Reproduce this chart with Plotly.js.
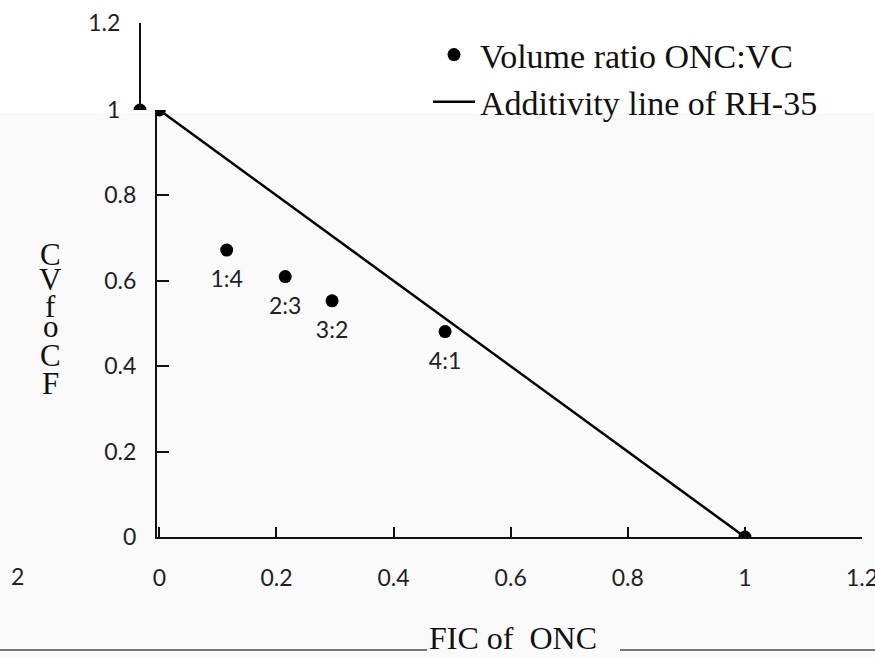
<!DOCTYPE html>
<html>
<head>
<meta charset="utf-8">
<script src="https://cdn.plot.ly/plotly-3.0.1.min.js"></script>
<style>html,body{margin:0;padding:0;background:#fafafa;}#chart{width:875px;height:658px;}</style>
</head>
<body>
<div id="chart"></div>
<script>
// ---- data ----
const ratioLabels = ["", "1:4", "2:3", "3:2", "4:1", ""];
const ficONC = [0, 0.115, 0.215, 0.295, 0.488, 1];
const ficVC = [1, 0.672, 0.61, 0.553, 0.481, 0];
const additivityX = [0, 1];
const additivityY = [1, 0];
const xTickVals = [0, 0.2, 0.4, 0.6, 0.8, 1, 1.2];
const xTickText = ["0", "0.2", "0.4", "0.6", "0.8", "1", "1.2"];
const yTickValsLower = [0, 0.2, 0.4, 0.6, 0.8];
const yTickTextLower = ["0", "0.2", "0.4", "0.6", "0.8"];
const yTickValsUpper = [1, 1.2];
const yTickTextUpper = ["1", "1.2"];
const yTitleLetters = ["C", "V", "f", "o", "C", "F"];
const seriesNames = ["Volume ratio ONC:VC", "Additivity line of RH-35"];

// ---- layout helpers (page geometry) ----
const W = 875, H = 658;
const mL = 100, mR = 13, mT = 23, mB = 121;
const pw = W - mL - mR, ph = H - mT - mB;
const px2x = p => (p - mL) / pw;
const py2y = p => (H - mB - p) / ph;

const tickFont = {family: "Lato, 'Open Sans', sans-serif", size: 23, color: "#222"};
const serif = "'Liberation Serif', 'Times New Roman', serif";

const traces = [
  {x: ficONC, y: ficVC, xaxis: "x", yaxis: "y", mode: "markers", name: seriesNames[0],
   marker: {color: "#000", size: 13}, cliponaxis: true},
  {x: additivityX, y: additivityY, xaxis: "x", yaxis: "y", mode: "lines", name: seriesNames[1],
   line: {color: "#000", width: 2.5}},
  {x: ficONC, y: ficVC, xaxis: "x", yaxis: "y", mode: "markers+text", text: ratioLabels,
   marker: {size: 30, opacity: 0, color: "#000"},
   textposition: "bottom center", textfont: tickFont, showlegend: false, cliponaxis: false},
  // upper (shifted) strip of the scanned figure
  {x: ficONC, y: ficVC, xaxis: "x2", yaxis: "y2", mode: "markers", showlegend: false,
   marker: {color: "#000", size: 13}, cliponaxis: true},
  {x: additivityX, y: additivityY, xaxis: "x2", yaxis: "y2", mode: "lines", showlegend: false,
   line: {color: "#000", width: 2.5}}
];

const lowerTop = (H - mB - 110) / ph;
const x0px = 157, unit = 585.5;
const layout = {
  width: W, height: H,
  margin: {l: mL, r: mR, t: mT, b: mB, pad: 0},
  paper_bgcolor: "#fafafa", plot_bgcolor: "rgba(0,0,0,0)",
  showlegend: true,
  legend: {x: px2x(428), y: py2y(26), xanchor: "left", yanchor: "top",
           bgcolor: "rgba(0,0,0,0)", font: {family: serif, size: 34, color: "#111"},
           tracegroupgap: 0, itemwidth: 42},
  xaxis: {domain: [px2x(x0px), 1], range: [-0.004, 1.2], anchor: "y",
          tickvals: xTickVals, ticktext: xTickText, tickfont: tickFont,
          ticks: "inside", ticklen: 10, tickwidth: 2, tickcolor: "#111",
          showline: true, linecolor: "#111", linewidth: 2, ticklabeloverflow: "allow",
          showgrid: false, zeroline: false, ticklabelstandoff: 19, fixedrange: true},
  yaxis: {domain: [0, lowerTop], range: [0, 1], anchor: "x",
          tickvals: yTickValsLower, ticktext: yTickTextLower, tickfont: tickFont,
          ticks: "inside", ticklen: 12, tickwidth: 2, tickcolor: "#111",
          showline: true, linecolor: "#111", linewidth: 2,
          showgrid: false, zeroline: false, ticklabelstandoff: 14, fixedrange: true},
  xaxis2: {domain: [0, 1], range: [-(140 - mL) / unit, -(140 - mL) / unit + pw / unit],
           anchor: "y2", visible: false, fixedrange: true},
  yaxis2: {domain: [lowerTop, 1], range: [1, 1.2], anchor: "free", position: px2x(140),
           tickvals: yTickValsUpper, ticktext: yTickTextUpper, tickfont: tickFont,
           ticks: "inside", ticklen: 13, tickwidth: 2, tickcolor: "#111",
           showline: true, linecolor: "#111", linewidth: 2,
           showgrid: false, zeroline: false, ticklabelstandoff: 14, fixedrange: true},
  shapes: [
    {type: "rect", xref: "paper", yref: "paper", x0: px2x(0), x1: px2x(W), y0: py2y(113), y1: py2y(0),
     fillcolor: "#ffffff", line: {width: 0}, layer: "below"},
    {type: "line", xref: "paper", yref: "paper", x0: px2x(0), x1: px2x(427), y0: py2y(650), y1: py2y(650),
     line: {color: "#777", width: 2}},
    {type: "line", xref: "paper", yref: "paper", x0: px2x(620), x1: px2x(W), y0: py2y(650), y1: py2y(650),
     line: {color: "#777", width: 2}}
  ],
  annotations: [
    {text: "FIC of  ONC", xref: "paper", yref: "paper", x: px2x(513), y: py2y(638),
     showarrow: false, font: {family: serif, size: 32, color: "#111"}, xanchor: "center", yanchor: "middle"},
    {text: "2", xref: "paper", yref: "paper", x: px2x(17), y: py2y(576),
     showarrow: false, font: tickFont, xanchor: "center", yanchor: "middle"}
  ]
};
const letterY = [255, 279, 306, 326, 356, 383];
yTitleLetters.forEach((ch, i) => {
  layout.annotations.push({text: ch, xref: "paper", yref: "paper", x: px2x(51), y: py2y(letterY[i]),
    showarrow: false, font: {family: serif, size: 31, color: "#111"}, xanchor: "center", yanchor: "middle"});
});

Plotly.newPlot("chart", traces, layout, {displayModeBar: false, staticPlot: true});
</script>
</body>
</html>
